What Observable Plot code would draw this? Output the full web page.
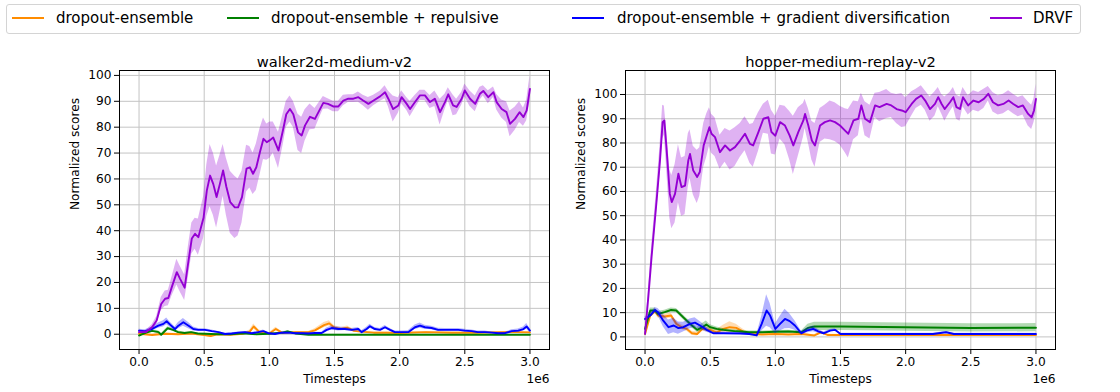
<!DOCTYPE html>
<html><head><meta charset="utf-8">
<script src="https://cdn.jsdelivr.net/npm/d3@7"></script>
<script src="https://cdn.jsdelivr.net/npm/@observablehq/plot@0.6"></script>
<style>
body{margin:0;background:#fff;font-family:"DejaVu Sans",sans-serif;}
#wrap{width:1120px;height:392px;position:relative;overflow:hidden}
#legend{position:relative;height:40px;width:1120px}
#legend .box{position:absolute;left:6px;top:4px;width:1075px;height:30px;border:1px solid #d4d4d4;border-radius:3px;box-sizing:border-box}
.item{position:absolute;top:4px;height:30px;line-height:29px;font-size:15px;color:#000;white-space:nowrap}
.sw{position:absolute;top:17px;width:32px;height:2px}
#charts{display:flex;width:1120px}
</style></head>
<body><div id="wrap"><div id="legend"><div class="box"></div></div><div id="charts"></div></div>
<script>
// ---- series ----
const seriesNames = ["dropout-ensemble", "dropout-ensemble + repulsive", "dropout-ensemble + gradient diversification", "DRVF"];
const seriesColors = ["#ff8c00", "#008000", "#0000ff", "#9400d3"];
const panelTitles = ["walker2d-medium-v2", "hopper-medium-replay-v2"];
const xTicks = [0, 0.5, 1, 1.5, 2, 2.5, 3];
const yTicks = [0, 10, 20, 30, 40, 50, 60, 70, 80, 90, 100];

// ---- walker2d-medium-v2 (timesteps in 1e6) ----
const walkerOrangeT = [0,0.1,0.2,0.3,0.4,0.5,0.55,0.6,0.7,0.8,0.85,0.88,0.92,1.0,1.05,1.1,1.2,1.3,1.35,1.42,1.46,1.5,1.55,1.6,1.65,1.7,1.8,1.9,2.0,2.2,2.4,2.6,2.8,2.9,3.0];
const walkerOrangeMean = [0.2,-0.3,0.2,0,0.3,-0.3,-0.7,0,-0.2,0.2,1,3,1,0.3,2,0.5,0.8,0.8,1.5,3.5,4.2,2.5,2,2.5,1.3,1,0.6,0.6,0.5,0.8,0.6,0.6,0.8,0.8,0.7];
const walkerOrangeSd = [0.3,0.3,0.3,0.3,0.3,0.4,0.5,0.3,0.3,0.3,0.6,1,0.6,0.3,0.7,0.4,0.3,0.3,0.6,1,1,0.8,0.6,0.7,0.5,0.3,0.3,0.3,0.3,0.3,0.3,0.3,0.3,0.3,0.3];

const walkerGreenT = [0,0.05,0.1,0.15,0.17,0.22,0.26,0.3,0.35,0.4,0.45,0.5,0.6,0.7,0.8,0.9,1.0,1.1,1.14,1.2,1.3,1.5,2.0,2.5,3.0];
const walkerGreenMean = [-0.5,0.5,1.3,0.8,-0.2,2.3,1.7,0.8,0.5,0.8,0.3,0.2,0,0,0.4,0,0.2,0.6,1.1,0.3,-0.2,-0.2,-0.2,-0.2,-0.2];
const walkerGreenSd = [0.3,0.4,0.5,0.5,0.4,0.6,0.5,0.4,0.3,0.3,0.2,0.2,0.1,0.1,0.2,0.1,0.1,0.2,0.3,0.1,0.05,0.05,0.05,0.05,0.05];

const walkerBlueT = [0,0.046,0.097,0.148,0.187,0.212,0.238,0.276,0.302,0.34,0.38,0.417,0.455,0.506,0.558,0.609,0.66,0.711,0.762,0.813,0.865,0.916,0.954,0.992,1.043,1.095,1.146,1.197,1.248,1.299,1.35,1.402,1.44,1.478,1.53,1.58,1.632,1.683,1.708,1.747,1.772,1.81,1.85,1.888,1.926,1.964,2.015,2.066,2.118,2.156,2.194,2.245,2.296,2.348,2.4,2.45,2.5,2.552,2.6,2.655,2.706,2.757,2.808,2.86,2.91,2.95,2.975,3.0];
const walkerBlueMean = [1.4,1.2,2,3.3,4,5,3.7,2,3.3,4.6,3.3,2,1.7,1.7,1.2,0.8,0.1,0.3,0.6,0.8,0.4,0.8,1.2,0.4,0.1,0.6,0.6,0.4,0.4,0.3,0.5,0.5,1.7,2.4,2,2,1.7,2,0.8,2,3.1,2,1.7,2.7,1.7,0.8,0.8,0.8,2.7,3.3,2.7,2.4,1.7,1.7,1.7,1.7,1.4,1.2,0.8,0.8,0.6,0.4,0.4,1.2,1.4,2,3,1.4];
const walkerBlueSd = [0.5,0.5,0.7,1,1.2,1.3,1,0.8,1.2,1.5,1.2,0.8,0.5,0.4,0.4,0.3,0.3,0.3,0.3,0.3,0.3,0.3,0.4,0.3,0.3,0.3,0.3,0.3,0.3,0.3,0.3,0.3,0.7,0.8,0.8,0.6,0.5,0.6,0.5,0.7,0.8,0.6,0.5,0.7,0.5,0.4,0.4,0.5,0.9,1,0.8,0.7,0.6,0.5,0.5,0.5,0.5,0.4,0.4,0.4,0.3,0.3,0.3,0.5,0.6,0.8,1.1,0.8];

const walkerDrvfT = [0,0.05,0.1,0.135,0.17,0.2,0.225,0.25,0.29,0.315,0.35,0.38,0.405,0.43,0.455,0.495,0.52,0.545,0.57,0.595,0.62,0.645,0.67,0.7,0.735,0.76,0.79,0.825,0.85,0.875,0.9,0.928,0.955,0.98,1.005,1.03,1.07,1.107,1.13,1.158,1.184,1.22,1.248,1.274,1.312,1.35,1.389,1.414,1.45,1.49,1.53,1.568,1.606,1.645,1.683,1.72,1.76,1.8,1.85,1.888,1.913,1.95,1.99,2.015,2.054,2.08,2.118,2.156,2.194,2.233,2.27,2.31,2.348,2.373,2.41,2.437,2.476,2.5,2.54,2.58,2.616,2.642,2.68,2.72,2.744,2.783,2.82,2.847,2.885,2.92,2.95,2.975,3.0];
const walkerDrvfMean = [0.8,0.8,2.7,5.3,11.7,13.7,14,18,24,21.4,18,28.5,37,38.8,37.5,45,55.5,61.3,58,53,58,63.3,57,51,49,49,53,64,64.5,62,64.5,70.4,75.5,74.2,75,76,71,79.4,85,87,85,78,76.8,80.7,84,83.2,87,89.4,89,88,88,90.3,91,91,91.6,90.3,89,90.3,91.9,93.5,91,87,88.4,91.6,89,87,89.7,92.3,92.3,89.7,91,85.8,89.7,92.7,88.4,87.8,91,94.2,91,89,92.9,94,91.6,93.5,89.7,87,85.8,81.3,83.2,85.8,83.9,86.5,94.8];
const walkerDrvfSd = [0.5,0.5,1,1.5,2.5,3,3,3.5,5,5,5,6,6,6,7,8,10,12,12,12,11,10,11,12,12,11,10,9,8,8,9,9,8,7,7,6,7,6,5,5,5,7,7,6,5,4,3,2.5,2,2,2,2,1.5,1.5,2,2,2.5,2,2,2.5,3,5,3,2.5,2.5,3,2.5,2,2,2.5,3,5,3,2.5,4,3,2.5,2.5,3,3,2.5,2,2.5,2,3,3.5,4,5,4.5,4,3.5,4,5];

// ---- hopper-medium-replay-v2 (timesteps in 1e6) ----
const hopperOrangeT = [0,0.04,0.077,0.1,0.15,0.2,0.24,0.28,0.32,0.36,0.4,0.44,0.5,0.55,0.6,0.65,0.7,0.75,0.8,0.9,1.0,1.1,1.2,1.3,1.35,1.4,1.5,2.0,2.5,3.0];
const hopperOrangeMean = [1.2,8.8,10.6,8.8,8.4,8.8,5.4,4,3.3,1.5,1.2,3.3,2.9,1.9,3.3,4,3.7,2.3,1.2,1,1.2,1,1.2,0.6,1.9,0.8,0.8,0.8,0.8,0.8];
const hopperOrangeSd = [0.5,1,1,1,1,1,1,1,1,0.8,0.8,1,1,1,1.5,2.2,1.5,1,0.5,0.3,0.3,0.3,0.3,0.3,0.5,0.3,0.2,0.2,0.2,0.2];

const hopperGreenT = [0,0.04,0.077,0.1,0.15,0.2,0.24,0.28,0.32,0.36,0.4,0.44,0.47,0.5,0.55,0.6,0.65,0.7,0.8,0.9,1.0,1.1,1.2,1.25,1.3,1.5,2.0,2.5,3.0];
const hopperGreenMean = [3.3,10.9,10.9,9.5,10.2,11.1,10.9,8.8,6.7,4.7,2.9,4,5.1,4,3.3,2.9,2.6,2.3,1.9,1.9,2.1,2.2,1.9,3.7,4.3,4.3,4,3.7,3.8];
const hopperGreenSd = [0.5,1,1,1,0.8,0.8,0.8,1,1,1,1,1.5,1.5,1,0.8,0.6,0.5,0.5,0.5,0.5,0.5,0.5,0.5,1.5,1.7,1.7,1.7,1.7,1.7];

const hopperBlueT = [0,0.04,0.077,0.1,0.14,0.18,0.22,0.256,0.294,0.345,0.383,0.435,0.473,0.524,0.6,0.73,0.8,0.857,0.895,0.933,0.96,1.0,1.036,1.074,1.11,1.15,1.2,1.24,1.29,1.33,1.37,1.42,1.458,1.5,1.62,1.75,2.0,2.21,2.31,2.37,2.52,2.75,3.0];
const hopperBlueMean = [7.4,8.8,11.1,10.2,6.7,4,4.7,3.6,4,5.4,5.9,4.3,2.9,1.5,1.5,1.4,1.2,0.6,5.4,10.9,8.8,3.3,5.4,7.4,6.5,4.7,1.5,2.6,3.3,2.3,1.5,2.6,2.9,1.2,1.2,1.2,1.2,1.2,1.9,1.2,1.2,1.2,1.2];
const hopperBlueSd = [0.8,1,1,1.5,2.5,3,3,2.5,2,2,2,1.5,1,0.5,0.5,0.3,0.3,0.3,3,6.5,5,2,3,4,3,2,0.8,1,1.2,0.8,0.5,0.5,0.5,0.3,0.3,0.3,0.3,0.3,0.3,0.3,0.3,0.3,0.3];

const hopperDrvfT = [0,0.026,0.05,0.09,0.115,0.135,0.148,0.166,0.19,0.205,0.23,0.256,0.28,0.307,0.332,0.345,0.37,0.4,0.42,0.45,0.473,0.494,0.51,0.537,0.575,0.614,0.652,0.69,0.73,0.767,0.805,0.83,0.87,0.908,0.946,0.97,1.0,1.036,1.074,1.11,1.138,1.176,1.215,1.228,1.253,1.28,1.304,1.343,1.38,1.42,1.458,1.496,1.535,1.56,1.6,1.637,1.66,1.688,1.726,1.765,1.8,1.854,1.89,1.93,1.97,2.0,2.046,2.08,2.12,2.15,2.187,2.225,2.25,2.276,2.3,2.34,2.366,2.39,2.417,2.44,2.48,2.52,2.56,2.6,2.634,2.67,2.71,2.75,2.79,2.826,2.864,2.9,2.94,2.967,2.985,3.0];
const hopperDrvfMean = [1.2,17,33,57,73,88.6,89.3,77,59,55.6,59,67.3,61.8,62.4,72.8,75.5,68.6,66,68,79,83,86.5,83.8,82.4,76.2,79,76.9,78.3,81,83.8,79.6,79,84.5,90,90.6,84.5,83,88.6,87.2,83,79,84.5,89.3,92,87.2,81,79,87.2,88.6,89.3,88.6,87.2,85.1,83.8,89.3,90,95.5,90,88.6,95.5,94.8,96.1,95.5,94,93.4,92.7,96.1,98.2,99.6,97.5,94,96.1,98.9,96.1,94,96.8,98.9,94.8,94,98.9,95.5,97.5,96.8,98.2,100.3,96.8,95.5,96.1,97.5,96.1,94.8,95.5,92,90.6,93.4,98.2];
const hopperDrvfSd = [0.5,2,4,5,6,7,6,8,10,11,12,12,12,12,11,10,10,11,10,9,9,8,8,8,7,7,8,8,7,7,8,9,8,6,7,9,8,7,8,10,12,10,7,6,7,8,9,7,7,8,8,8,9,10,8,7,5,7,7,5,6,6,5,6,7,6,5,4,4,4,5,5,4,4,5,4,4,5,5,4,4,4,4,4,3,4,4,4,4,4,4,4,5,5,5,6];

// ---- legend ----
const legendEl = document.getElementById("legend");
const swLeft = [12, 227, 572, 990], txLeft = [56, 271, 617, 1033];
seriesNames.forEach((n, i) => {
  const sw = document.createElement("div");
  sw.className = "sw"; sw.style.left = swLeft[i] + "px"; sw.style.background = seriesColors[i];
  legendEl.appendChild(sw);
  const tx = document.createElement("div");
  tx.className = "item"; tx.style.left = txLeft[i] + "px"; tx.textContent = n;
  legendEl.appendChild(tx);
});

function rows(T, M, S) { return T.map((t, i) => ({t, v: M[i], s: S[i]})); }

function panel(title, series, yDomain, ml, mr) {
  const marks = [
    Plot.ruleX(xTicks, {stroke: "#c4c4c4", strokeWidth: 1}),
    Plot.ruleY(yTicks, {stroke: "#c4c4c4", strokeWidth: 1})
  ];
  series.forEach((d, i) => {
    marks.push(Plot.areaY(d, {x: "t", y1: r => r.v - r.s, y2: r => r.v + r.s, fill: seriesColors[i], fillOpacity: 0.3}));
    marks.push(Plot.line(d, {x: "t", y: "v", stroke: seriesColors[i], strokeWidth: 1.9}));
  });
  marks.push(Plot.frame({stroke: "#000", strokeWidth: 1}));
  marks.push(Plot.text([title], {frameAnchor: "top", dy: -14, fontSize: 14.7, fill: "#000"}));
  marks.push(Plot.text(["Normalized scores"], {frameAnchor: "left", dx: -44, rotate: -90, fontSize: 12.2, fill: "#000"}));
  marks.push(Plot.text(["Timesteps"], {frameAnchor: "bottom", dy: 33, fontSize: 12.2, fill: "#000"}));
  marks.push(Plot.text(["1e6"], {frameAnchor: "bottom-right", dy: 33, textAnchor: "end", fontSize: 12.2, fill: "#000"}));
  return Plot.plot({
    width: 560, height: 352,
    marginLeft: ml, marginRight: mr, marginTop: 30, marginBottom: 43,
    x: {domain: [-0.15, 3.15], ticks: xTicks, tickFormat: d3.format(".1f"), tickSize: 5, tickPadding: 3, label: null},
    y: {domain: yDomain, ticks: yTicks, tickSize: 5, tickPadding: 3, label: null},
    style: {fontFamily: "DejaVu Sans", fontSize: "12.2px", color: "#000", background: "transparent", overflow: "visible"},
    marks
  });
}

const charts = document.getElementById("charts");
charts.appendChild(panel(panelTitles[0], [
  rows(walkerOrangeT, walkerOrangeMean, walkerOrangeSd),
  rows(walkerGreenT, walkerGreenMean, walkerGreenSd),
  rows(walkerBlueT, walkerBlueMean, walkerBlueSd),
  rows(walkerDrvfT, walkerDrvfMean, walkerDrvfSd)
], [-5.9, 101.9], 119, 11));
charts.appendChild(panel(panelTitles[1], [
  rows(hopperOrangeT, hopperOrangeMean, hopperOrangeSd),
  rows(hopperGreenT, hopperGreenMean, hopperGreenSd),
  rows(hopperBlueT, hopperBlueMean, hopperBlueSd),
  rows(hopperDrvfT, hopperDrvfMean, hopperDrvfSd)
], [-5.2, 109.9], 65, 65));
</script></body></html>
